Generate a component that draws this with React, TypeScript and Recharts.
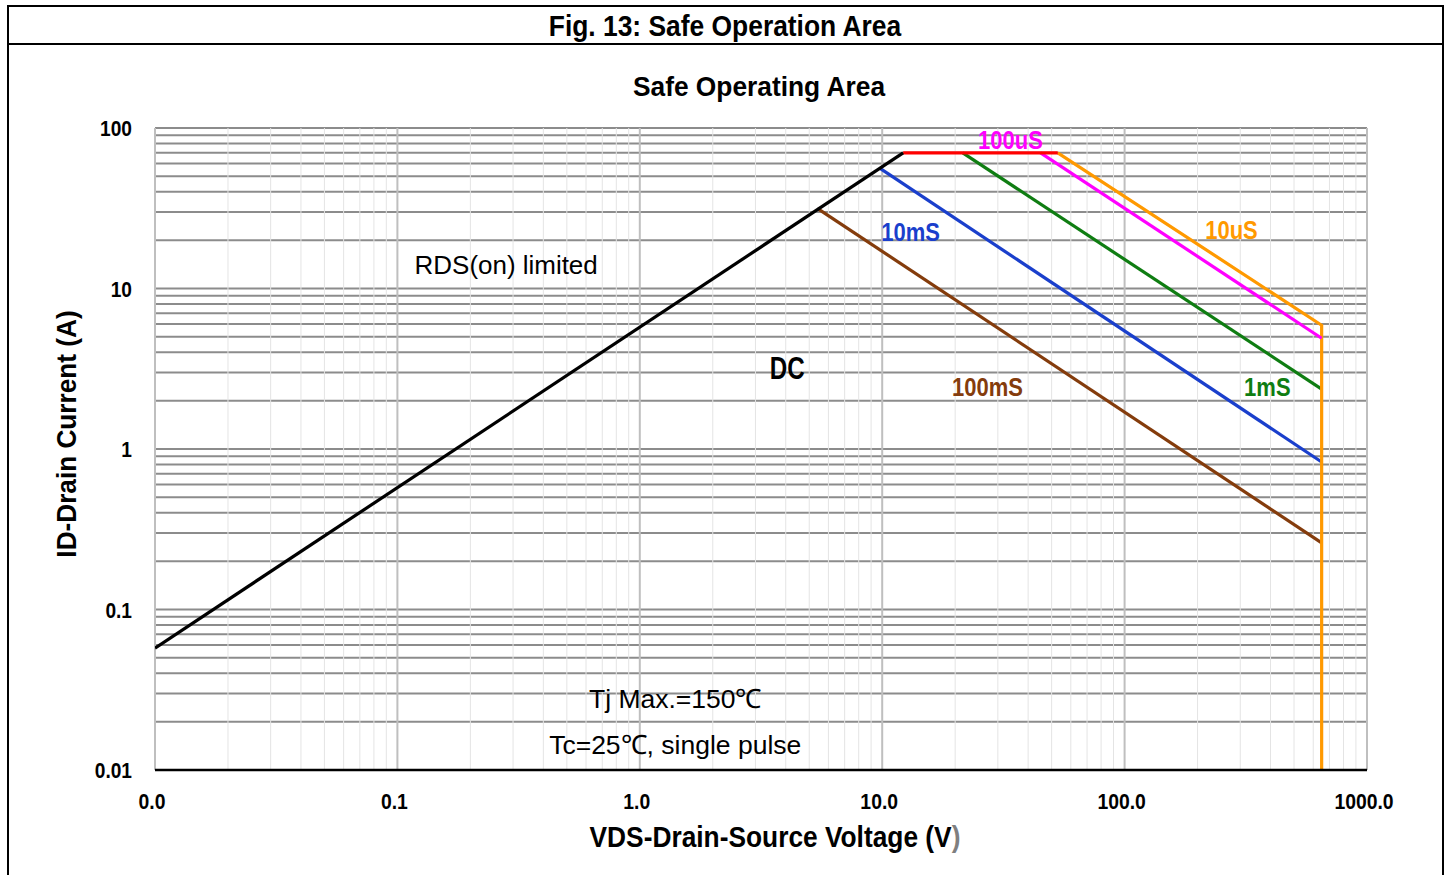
import React from 'react'
import { LineChart, Line, XAxis, YAxis, ReferenceLine, ReferenceDot } from 'recharts'

// axis ticks
const xTicks = [0.01, 0.1, 1, 10, 100, 1000]
const yTicks = [0.01, 0.1, 1, 10, 100]

// SOA boundary segments (VDS in V, ID in A)
const dcLimit = [{ v: 0.01, i: 0.0575 }, { v: 12.2, i: 70 }]
const currentLimit = [{ v: 12.2, i: 70 }, { v: 53, i: 70 }]
const pulse10us = [{ v: 53, i: 70 }, { v: 650, i: 5.9 }, { v: 650, i: 0.01 }]
const pulse100us = [{ v: 45, i: 70 }, { v: 650, i: 4.9 }]
const pulse1ms = [{ v: 21.5, i: 70 }, { v: 650, i: 2.36 }]
const pulse10ms = [{ v: 9.8, i: 56 }, { v: 650, i: 0.83 }]
const pulse100ms = [{ v: 5.4, i: 31.6 }, { v: 650, i: 0.26 }]

// curve annotations, anchored in data space
const notes = [
  { v: 33.8, i: 84, text: '100uS' },
  { v: 276, i: 23.1, text: '10uS' },
  { v: 13.1, i: 22.5, text: '10mS' },
  { v: 388, i: 2.43, text: '1mS' },
  { v: 27.2, i: 2.43, text: '100mS' },
  { v: 4.06, i: 3.2, text: 'DC' },
  { v: 0.281, i: 14, text: 'RDS(on) limited' },
  { v: 1.4, i: 0.0277, text: 'Tj Max.=150℃' },
  { v: 1.4, i: 0.0143, text: 'Tc=25℃, single pulse' },
]

const BOLD_NOTE = { size: 26.5, bold: true, sx: 0.83 }
const PLAIN_NOTE = { size: 26.5, bold: false, sx: 1 }
const noteStyle: Record<string, any> = {
  '100uS': { ...BOLD_NOTE, color: '#ff00ff' },
  '10uS': { ...BOLD_NOTE, color: '#ff9900' },
  '10mS': { ...BOLD_NOTE, color: '#1a3fcc' },
  '1mS': { ...BOLD_NOTE, color: '#0f7d12' },
  '100mS': { ...BOLD_NOTE, color: '#843c0c' },
  DC: { size: 31, bold: true, sx: 0.78, color: '#000' },
  'RDS(on) limited': { ...PLAIN_NOTE, sx: 0.98, color: '#000' },
  'Tj Max.=150℃': { ...PLAIN_NOTE, color: '#000' },
  'Tc=25℃, single pulse': { ...PLAIN_NOTE, color: '#000' },
}

const decades = [0.01, 0.1, 1, 10, 100]
const steps = [2, 3, 4, 5, 6, 7, 8, 9]
const minorX = decades.flatMap(d => steps.map(k => +(d * k).toPrecision(3)))
const hGrid = [...minorX.filter(v => v < 100), ...yTicks]

const FONT = '"Liberation Sans", Arial, sans-serif'

function XTick({ x, y, payload }: any) {
  return (
    <g transform={`translate(${x - 3},${y}) scale(0.88,1)`}>
      <text x={0} y={0} textAnchor="middle" dominantBaseline="central"
        fontFamily={FONT} fontWeight="bold" fontSize={22} fill="#000">
        {payload.value.toFixed(1)}
      </text>
    </g>
  )
}

function YTick({ x, y, payload }: any) {
  return (
    <g transform={`translate(${x},${y}) scale(0.87,1)`}>
      <text x={0} y={0} textAnchor="end" dominantBaseline="central"
        fontFamily={FONT} fontWeight="bold" fontSize={22} fill="#000">
        {String(payload.value)}
      </text>
    </g>
  )
}

const seriesProps = { type: 'linear' as const, dot: false, activeDot: false, isAnimationActive: false, strokeWidth: 3.2, dataKey: 'i' }

const centered = (left: number, top: number, size: number, sx: number) => ({
  position: 'absolute' as const, left, top, whiteSpace: 'nowrap' as const,
  transform: `translate(-50%,-50%) scaleX(${sx})`, fontFamily: FONT, fontWeight: 'bold' as const,
  fontSize: size, lineHeight: 1,
})

export default function App() {
  return (
    <div style={{ position: 'absolute', left: 0, top: 0, width: 1451, height: 875, background: '#fff', overflow: 'hidden' }}>
      <div style={{ position: 'absolute', left: 7, top: 5, width: 1437, height: 920, border: '2px solid #000', boxSizing: 'border-box' }} />
      <div style={{ position: 'absolute', left: 7, top: 43, width: 1437, height: 2, background: '#000' }} />
      <div style={centered(725, 25.5, 29, 0.91)}>Fig. 13: Safe Operation Area</div>
      <div style={centered(759, 87, 28, 0.94)}>Safe Operating Area</div>

      <div style={{ position: 'absolute', left: 0, top: 0 }}>
        <LineChart width={1451} height={875} margin={{ top: 128, right: 84, bottom: 75, left: 95 }}>
          {hGrid.map(v => (
            <ReferenceLine key={'h' + v} y={v} stroke="#8c8c8c" strokeWidth={2} />
          ))}
          {minorX.filter(v => v < 1000).map(v => (
            <ReferenceLine key={'vm' + v} x={v} stroke="#e4e4e4" strokeWidth={1} />
          ))}
          {xTicks.map(v => (
            <ReferenceLine key={'vM' + v} x={v} stroke="#bfbfbf" strokeWidth={2} />
          ))}
          <XAxis type="number" dataKey="v" scale="log" domain={[0.01, 1000]} ticks={xTicks}
            allowDataOverflow height={30} tickSize={0} tickMargin={31} tick={<XTick />}
            axisLine={{ stroke: '#000', strokeWidth: 2.5 }} tickLine={false} />
          <YAxis type="number" dataKey="i" scale="log" domain={[0.01, 100]} ticks={yTicks}
            allowDataOverflow width={60} tickSize={0} tickMargin={23} tick={<YTick />}
            axisLine={false} tickLine={false} />
          <Line {...seriesProps} data={pulse100ms} stroke="#843c0c" />
          <Line {...seriesProps} data={pulse10ms} stroke="#1a3fcc" />
          <Line {...seriesProps} data={pulse1ms} stroke="#0f7d12" />
          <Line {...seriesProps} data={pulse10us} stroke="#ff9900" />
          <Line {...seriesProps} data={pulse100us} stroke="#ff00ff" />
          <Line {...seriesProps} data={currentLimit} stroke="#ff0000" />
          <Line {...seriesProps} data={dcLimit} stroke="#000" />
          {notes.map(n => {
            const s = noteStyle[n.text]
            return (
              <ReferenceDot key={n.text} x={n.v} y={n.i} r={1} fill="none" stroke="none"
                label={{
                  content: ({ viewBox }: any) => (
                    <g transform={`translate(${viewBox.x + viewBox.width / 2},${viewBox.y + viewBox.height / 2}) scale(${s.sx},1)`}>
                      <text x={0} y={0} textAnchor="middle" dominantBaseline="central"
                        fontFamily={FONT} fontWeight={s.bold ? 'bold' : 'normal'}
                        fontSize={s.size} fill={s.color}>
                        {n.text}
                      </text>
                    </g>
                  ),
                }} />
            )
          })}
        </LineChart>
      </div>

      <div style={{ ...centered(67, 434, 28, 1), transform: 'translate(-50%,-50%) rotate(-90deg) scaleX(0.935)' }}>
        ID-Drain Current (A)
      </div>
      <div style={centered(775, 837, 30, 0.877)}>
        VDS-Drain-Source Voltage (V<span style={{ color: '#7f7f7f' }}>)</span>
      </div>
    </div>
  )
}
